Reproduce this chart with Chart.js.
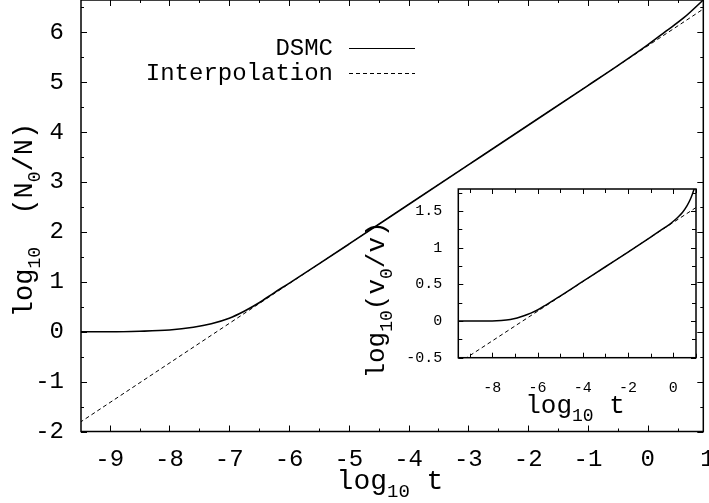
<!DOCTYPE html>
<html>
<head>
<meta charset="utf-8">
<script src="https://cdn.jsdelivr.net/npm/chart.js@4.4.0/dist/chart.umd.min.js"></script>
<style>
  body { margin: 0; background: #fff; }
  #wrap { position: relative; width: 709px; height: 503px; background: #fff; }
  #main { position: absolute; left: 0; top: 0; }
  #inset { position: absolute; left: 355px; top: 180px; }
</style>
</head>
<body>
<div id="wrap">
  <canvas id="main" width="709" height="503"></canvas>
  <canvas id="inset" width="350" height="250"></canvas>
</div>
<script>
// main plot: log10(N0/N) against log10 t
const dsmcX = [-9.5, -9, -8.5, -8, -7.6, -7.3, -7.0, -6.75, -6.5, -6.25, -6, -5.5, -5, -4, -3, -2, -1, -0.5, 0, 0.3, 0.6, 1];
const dsmcY = [0, 0, 0.01, 0.035, 0.09, 0.16, 0.27, 0.41, 0.58, 0.78, 0.97, 1.36, 1.755, 2.55, 3.345, 4.14, 4.935, 5.335, 5.75, 6.02, 6.29, 6.73];
const interpX = [-9.5, 1];
const interpY = [-1.82, 6.525];
const mainXTicks = [-9, -8, -7, -6, -5, -4, -3, -2, -1, 0, 1];
const mainYTicks = [-2, -1, 0, 1, 2, 3, 4, 5, 6];

// inset: log10(v0/v) against log10 t
const insetDsmcX = [-9.5, -8, -7.6, -7.2, -6.9, -6.6, -6.3, -6.0, -5.6, -5, -4, -3, -2, -1, -0.5, -0.2, 0, 0.2, 0.4, 0.6, 0.75, 0.85, 0.95, 1];
const insetDsmcY = [0, 0.002, 0.008, 0.022, 0.042, 0.072, 0.108, 0.15, 0.225, 0.34, 0.54, 0.74, 0.94, 1.145, 1.25, 1.31, 1.36, 1.415, 1.48, 1.57, 1.66, 1.74, 1.83, 1.88];
const insetInterpX = [-9.5, 1];
const insetInterpY = [-0.574, 1.547];
const insetXTicks = [-8, -6, -4, -2, 0];
const insetYTicks = [-0.5, 0, 0.5, 1, 1.5];

const FONT = '"Liberation Mono", "Courier New", monospace';
Chart.defaults.font.family = FONT;
Chart.defaults.color = '#000';

const pts = (xs, ys) => xs.map((x, i) => ({ x: x, y: ys[i] }));

// frame with inward ticks on all four sides
const frameTicks = {
  id: 'frameTicks',
  afterDraw(chart, args, o) {
    const { ctx, chartArea: a, scales } = chart;
    const x = scales.x, y = scales.y;
    ctx.save();
    ctx.strokeStyle = '#000';
    ctx.lineWidth = 1;
    const isMajor = (v, step) => Math.abs(v / step - Math.round(v / step)) < 1e-6;
    ctx.beginPath();
    for (let v = Math.ceil(x.min / o.xMinor) * o.xMinor; v <= x.max + 1e-9; v += o.xMinor) {
      const px = Math.round(x.getPixelForValue(v)) + 0.5;
      const len = isMajor(v, o.xMajor) ? o.majLen : o.minLen;
      ctx.moveTo(px, a.bottom); ctx.lineTo(px, a.bottom - len);
      ctx.moveTo(px, a.top); ctx.lineTo(px, a.top + len);
    }
    for (let v = Math.ceil(y.min / o.yMinor) * o.yMinor; v <= y.max + 1e-9; v += o.yMinor) {
      const py = Math.round(y.getPixelForValue(v)) + 0.5;
      const len = isMajor(v, o.yMajor) ? o.majLen : o.minLen;
      ctx.moveTo(a.left, py); ctx.lineTo(a.left + len, py);
      ctx.moveTo(a.right, py); ctx.lineTo(a.right - len, py);
    }
    ctx.stroke();
    ctx.lineWidth = o.frameWidth;
    ctx.strokeRect(a.left, a.top, a.right - a.left, a.bottom - a.top);
    ctx.restore();
  }
};

// legend: right aligned label followed by a sample of the line
const lineLegend = {
  id: 'lineLegend',
  afterDraw(chart, args, o) {
    if (!o.show) return;
    const ctx = chart.ctx;
    chart.data.datasets.forEach((ds, i) => {
      const y = o.y + i * o.rowGap;
      ctx.save();
      ctx.font = o.size + 'px ' + FONT;
      ctx.fillStyle = '#000';
      ctx.textAlign = 'right';
      ctx.textBaseline = 'middle';
      ctx.fillText(ds.label, o.textRight, y + 1);
      ctx.strokeStyle = ds.borderColor;
      ctx.lineWidth = ds.legendWidth || ds.borderWidth;
      ctx.setLineDash(ds.borderDash || []);
      ctx.beginPath();
      ctx.moveTo(o.lineFrom, y + 0.5);
      ctx.lineTo(o.lineTo, y + 0.5);
      ctx.stroke();
      ctx.restore();
    });
  }
};

// axis titles with subscripts; parts are [text, isSubscript]
function drawRich(ctx, parts, x, y, size, rot) {
  ctx.save();
  ctx.translate(x, y);
  if (rot) ctx.rotate(-Math.PI / 2);
  ctx.fillStyle = '#000';
  ctx.textBaseline = 'alphabetic';
  ctx.textAlign = 'left';
  const sub = Math.round(size * 0.68);
  let w = 0;
  parts.forEach(p => {
    ctx.font = (p[1] ? sub : size) + 'px ' + FONT;
    w += ctx.measureText(p[0]).width;
  });
  let cx = -w / 2;
  parts.forEach(p => {
    ctx.font = (p[1] ? sub : size) + 'px ' + FONT;
    ctx.fillText(p[0], cx, p[1] ? size * 0.3 : 0);
    cx += ctx.measureText(p[0]).width;
  });
  ctx.restore();
}

const richTitles = {
  id: 'richTitles',
  afterDraw(chart, args, o) {
    (o.items || []).forEach(t => drawRich(chart.ctx, t.parts, t.x, t.y, t.size, t.rot));
  }
};

function axes(opts) {
  return {
    x: {
      type: 'linear', min: opts.xMin, max: opts.xMax,
      grid: { display: false, drawTicks: false }, border: { display: false },
      afterBuildTicks: s => { s.ticks = opts.xTicks.map(v => ({ value: v })); },
      afterFit: s => { s.height = opts.xHeight; s.paddingLeft = 0; s.paddingRight = 0; },
      ticks: { autoSkip: false, maxRotation: 0, padding: opts.xPad, font: { size: opts.tickSize }, callback: v => String(v) }
    },
    y: {
      type: 'linear', min: opts.yMin, max: opts.yMax,
      grid: { display: false, drawTicks: false }, border: { display: false },
      afterBuildTicks: s => { s.ticks = opts.yTicks.map(v => ({ value: v })); },
      afterFit: s => { s.width = opts.yWidth; s.paddingTop = 0; s.paddingBottom = 0; },
      ticks: { autoSkip: false, padding: opts.yPad, font: { size: opts.tickSize }, callback: v => String(v) }
    }
  };
}

new Chart(document.getElementById('main').getContext('2d'), {
  type: 'line',
  data: {
    datasets: [
      { label: 'DSMC', data: pts(dsmcX, dsmcY), borderColor: '#000', borderWidth: 1.6, legendWidth: 1,
        pointRadius: 0, cubicInterpolationMode: 'monotone', fill: false },
      { label: 'Interpolation', data: pts(interpX, interpY), borderColor: '#000', borderWidth: 1,
        borderDash: [4, 3], pointRadius: 0, fill: false }
    ]
  },
  options: {
    responsive: false, animation: false, devicePixelRatio: 1,
    layout: { padding: { left: 0, top: 0, right: 5.7, bottom: 0 } },
    scales: axes({ xMin: -9.48, xMax: 0.93, yMin: -2, yMax: 6.65, xTicks: mainXTicks, yTicks: mainYTicks,
      xHeight: 71.5, yWidth: 81, xPad: 14, yPad: 17, tickSize: 24 }),
    plugins: {
      legend: { display: false }, tooltip: { enabled: false },
      frameTicks: { xMinor: 0.5, xMajor: 1, yMinor: 0.5, yMajor: 1, majLen: 6, minLen: 3, frameWidth: 1.5 },
      lineLegend: { show: true, textRight: 333, lineFrom: 349, lineTo: 415, y: 48, rowGap: 25, size: 24 },
      richTitles: { items: [
        { parts: [['log', 0], ['10', 1], [' t', 0]], x: 390, y: 489, size: 28 },
        { parts: [['log', 0], ['10', 1], ['  (N', 0], ['0', 1], ['/N)', 0]], x: 32, y: 220, size: 27, rot: true }
      ] }
    }
  },
  plugins: [frameTicks, lineLegend, richTitles]
});

new Chart(document.getElementById('inset').getContext('2d'), {
  type: 'line',
  data: {
    datasets: [
      { label: 'DSMC', data: pts(insetDsmcX, insetDsmcY), borderColor: '#000', borderWidth: 1.5,
        pointRadius: 0, cubicInterpolationMode: 'monotone', fill: false },
      { label: 'Interpolation', data: pts(insetInterpX, insetInterpY), borderColor: '#000', borderWidth: 1,
        borderDash: [4, 3], pointRadius: 0, fill: false }
    ]
  },
  options: {
    responsive: false, animation: false, devicePixelRatio: 1,
    layout: { padding: { left: 0, top: 9, right: 9, bottom: 0 } },
    scales: axes({ xMin: -9.5, xMax: 1, yMin: -0.5, yMax: 1.8, xTicks: insetXTicks, yTicks: insetYTicks,
      xHeight: 72.3, yWidth: 103.3, xPad: 21, yPad: 16, tickSize: 15 }),
    plugins: {
      legend: { display: false }, tooltip: { enabled: false },
      frameTicks: { xMinor: 1, xMajor: 2, yMinor: 0.25, yMajor: 0.5, majLen: 5, minLen: 4, frameWidth: 1.5 },
      lineLegend: { show: false },
      richTitles: { items: [
        { parts: [['log', 0], ['10', 1], [' t', 0]], x: 220, y: 233, size: 26 },
        { parts: [['log', 0], ['10', 1], ['(v', 0], ['0', 1], ['/v)', 0]], x: 29, y: 120, size: 26, rot: true }
      ] }
    }
  },
  plugins: [frameTicks, lineLegend, richTitles]
});
</script>
</body>
</html>
